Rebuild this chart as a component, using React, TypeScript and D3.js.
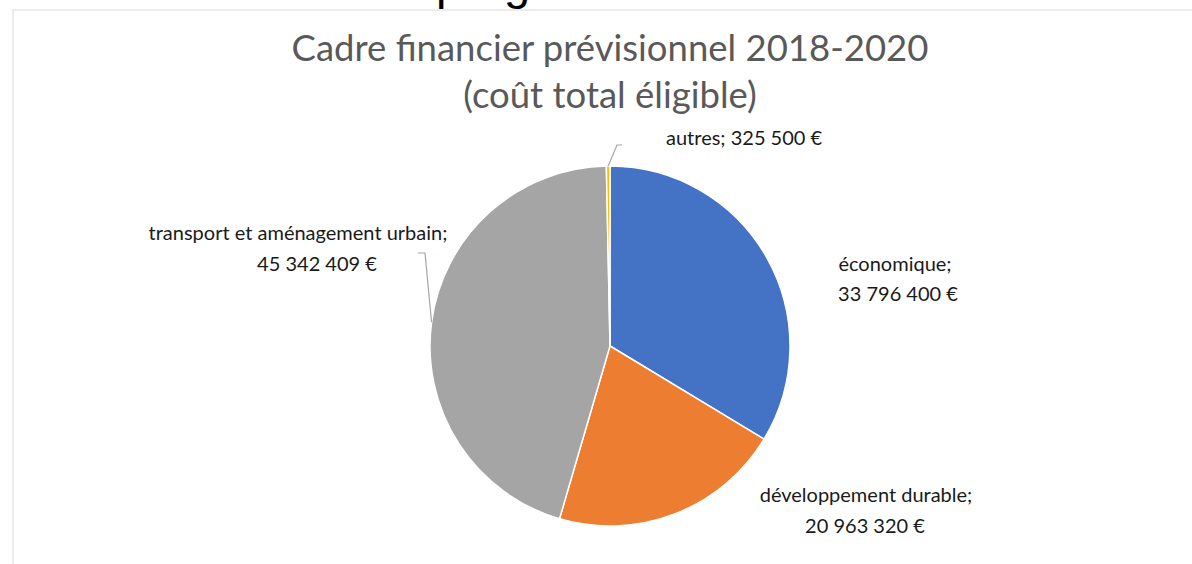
import * as d3 from "d3";
import { useEffect, useRef } from "react";

// chart data
const categories = ["économique", "développement durable", "transport et aménagement urbain", "autres"];
const values = [33796400, 20963320, 45342409, 325500];
const colors = ["#4472C4", "#ED7D31", "#A5A5A5", "#FFC000"];
const titleLines = ["Cadre financier prévisionnel 2018-2020", "(coût total éligible)"];

const W = 1192;
const H = 564;

const fr = d3.formatLocale({ decimal: ",", thousands: " ", grouping: [3], currency: ["", " €"] });
const money = (v: number) => fr.format(",")(v) + " €";

export default function App() {
  const ref = useRef<SVGSVGElement>(null);

  useEffect(() => {
    const svg = d3.select(ref.current);
    svg.selectAll("*").remove();

    // cropped text from the page above the chart
    svg.append("text")
      .attr("x", 436)
      .attr("y", -1)
      .attr("font-family", "'Liberation Sans', Arial, sans-serif")
      .attr("font-size", 47)
      .attr("fill", "#000")
      .text("programme");

    // chart area border
    svg.append("path")
      .attr("d", `M13,${H} L13,10 L${W},10`)
      .attr("fill", "none")
      .attr("stroke", "#e6e6e6")
      .attr("stroke-width", 1.5);

    const title = svg.append("text")
      .attr("text-anchor", "middle")
      .attr("font-family", "Lato, 'Open Sans', sans-serif")
      .attr("font-size", 36.5)
      .attr("fill", "#595959");
    titleLines.forEach((t, i) => {
      title.append("tspan").attr("x", 610).attr("y", 61 + i * 47).text(t);
    });

    const cx = 610, cy = 346, r = 180;
    const data = categories.map((c, i) => ({ name: c, value: values[i], color: colors[i] }));
    const pie = d3.pie<any>().sort(null).value((d) => d.value);
    const arc = d3.arc<any>().innerRadius(0).outerRadius(r);
    const arcs = pie(data);

    const g = svg.append("g").attr("transform", `translate(${cx},${cy})`);
    g.selectAll("path")
      .data(arcs)
      .enter()
      .append("path")
      .attr("d", arc)
      .attr("fill", (d) => d.data.color)
      .attr("stroke", "#fff")
      .attr("stroke-width", 1.5);

    // labels (layout positions per category)
    const labelLayout = [
      { lines: [{ x: 895, y: 271 }, { x: 898, y: 301 }], anchor: "middle" },
      { lines: [{ x: 866, y: 502 }, { x: 865, y: 533 }], anchor: "middle" },
      { lines: [{ x: 298, y: 240 }, { x: 317, y: 271 }], anchor: "middle" },
      { lines: [{ x: 666, y: 145 }], anchor: "start" },
    ];

    data.forEach((d, i) => {
      const lay = labelLayout[i];
      const texts = lay.lines.length === 2 ? [d.name + ";", money(d.value)] : [d.name + "; " + money(d.value)];
      const t = svg.append("text")
        .attr("text-anchor", lay.anchor)
        .attr("font-family", "Lato, 'Open Sans', sans-serif")
        .attr("font-size", 20)
        .attr("fill", "#1a1a1a");
      texts.forEach((s, j) => {
        t.append("tspan").attr("x", lay.lines[j].x).attr("y", lay.lines[j].y).text(s);
      });
    });

    // leader lines for the outer labels
    const leaders = [
      { idx: 3, at: 0.5, elbow: [617, 145], end: [622, 145] },
      { idx: 2, at: 0.5, elbow: [425, 253], end: [418, 253] },
    ];
    leaders.forEach((l) => {
      const a = arcs[l.idx];
      const ang = a.startAngle + (a.endAngle - a.startAngle) * l.at;
      const sx = cx + Math.sin(ang) * r;
      const sy = cy - Math.cos(ang) * r;
      svg.append("path")
        .attr("d", d3.line()([[sx, sy], l.elbow as [number, number], l.end as [number, number]]))
        .attr("fill", "none")
        .attr("stroke", "#a6a6a6")
        .attr("stroke-width", 1.2);
    });
  }, []);

  return (
    <svg
      ref={ref}
      width={W}
      height={H}
      style={{ position: "absolute", left: 0, top: 0, background: "#fff" }}
    />
  );
}
